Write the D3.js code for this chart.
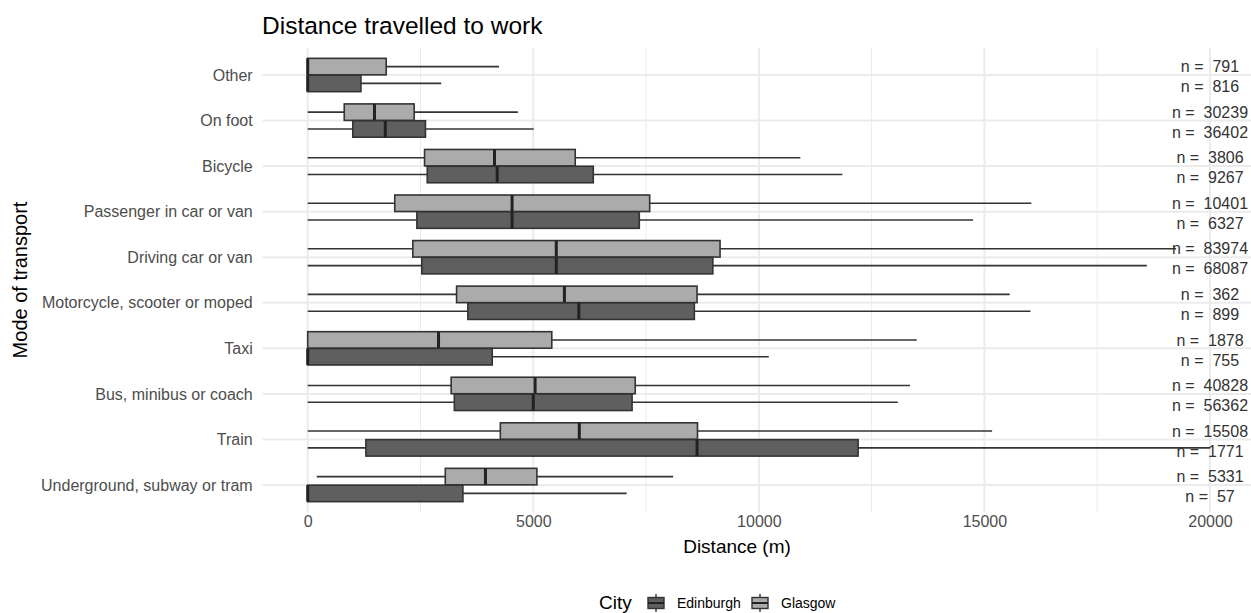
<!DOCTYPE html>
<html lang="en">

<head>
    <meta charset="utf-8">
    <title>Distance travelled to work</title>
    <script type="text/javascript" src="https://cdn.jsdelivr.net/npm/d3@7"></script>
    <style>
      body { margin: 0; background: #fff; }
      text { font-family: "Liberation Sans", Arial, sans-serif; }
    </style>
</head>

<body>
    <script type="text/javascript">
      var w = 1251;
      var h = 613;

      //// Data (distance in metres)
      var modes = ["Other", "On foot", "Bicycle", "Passenger in car or van", "Driving car or van",
                   "Motorcycle, scooter or moped", "Taxi", "Bus, minibus or coach", "Train",
                   "Underground, subway or tram"];

      // [min, q1, median, q3, max] per mode
      var glasgowStats = [
        [0, 0, 0, 1740, 4240],
        [0, 810, 1480, 2360, 4660],
        [0, 2590, 4140, 5930, 10920],
        [0, 1930, 4530, 7580, 16040],
        [0, 2330, 5510, 9140, 19250],
        [0, 3300, 5690, 8630, 15560],
        [0, 0, 2900, 5410, 13500],
        [0, 3180, 5040, 7260, 13350],
        [0, 4270, 6020, 8640, 15170],
        [200, 3050, 3940, 5080, 8100]
      ];
      var edinburghStats = [
        [0, 0, 0, 1180, 2960],
        [0, 1000, 1720, 2610, 5010],
        [0, 2650, 4200, 6330, 11850],
        [0, 2420, 4530, 7350, 14750],
        [0, 2530, 5510, 8980, 18600],
        [0, 3550, 6010, 8570, 16020],
        [0, 0, 0, 4090, 10220],
        [0, 3250, 5000, 7190, 13080],
        [0, 1290, 8630, 12200, 20000],
        [0, 0, 0, 3440, 7070]
      ];
      var glasgowN = [791, 30239, 3806, 10401, 83974, 362, 1878, 40828, 15508, 5331];
      var edinburghN = [816, 36402, 9267, 6327, 68087, 899, 755, 56362, 1771, 57];

      var cities = ["Edinburgh", "Glasgow"];
      var cityFill = { "Edinburgh": "#5f5f5f", "Glasgow": "#ababab" };
      var majorTicks = [0, 5000, 10000, 15000, 20000];
      var minorTicks = [2500, 7500, 12500, 17500];

      //// Layout
      var panel = { left: 262.7, right: 1251, top: 47.7, bottom: 512.3 };

      var x = d3.scaleLinear()
        .domain([0, 20000])
        .range([307.7, 1210]);

      var y = d3.scalePoint()
        .domain(modes)
        .range([75, 485]);

      var boxH = 16.5;
      var offset = { "Glasgow": -8.4, "Edinburgh": 8.4 };
      var labelOffset = { "Glasgow": -8.5, "Edinburgh": 11.5 };

      // flatten into one record per box
      var boxes = [];
      modes.forEach(function(m, i) {
        boxes.push({ mode: m, city: "Glasgow", s: glasgowStats[i], n: glasgowN[i] });
        boxes.push({ mode: m, city: "Edinburgh", s: edinburghStats[i], n: edinburghN[i] });
      });

      var svg = d3.select("body")
        .append("svg")
        .attr("width", w)
        .attr("height", h);

      //// Grid
      var grid = svg.append("g");
      grid.selectAll("line.minor")
        .data(minorTicks)
        .enter()
        .append("line")
        .attr("x1", function(d) { return x(d); })
        .attr("x2", function(d) { return x(d); })
        .attr("y1", panel.top)
        .attr("y2", panel.bottom)
        .attr("stroke", "#ebebeb")
        .attr("stroke-width", 1);
      grid.selectAll("line.major")
        .data(majorTicks)
        .enter()
        .append("line")
        .attr("x1", function(d) { return x(d); })
        .attr("x2", function(d) { return x(d); })
        .attr("y1", panel.top)
        .attr("y2", panel.bottom)
        .attr("stroke", "#ebebeb")
        .attr("stroke-width", 2);
      grid.selectAll("line.hmajor")
        .data(modes)
        .enter()
        .append("line")
        .attr("x1", panel.left)
        .attr("x2", panel.right)
        .attr("y1", function(d) { return y(d); })
        .attr("y2", function(d) { return y(d); })
        .attr("stroke", "#ebebeb")
        .attr("stroke-width", 2);

      //// Axes
      var xAxis = svg.append("g")
        .attr("transform", "translate(0," + panel.bottom + ")")
        .call(d3.axisBottom(x).tickValues(majorTicks).tickFormat(d3.format("d")).tickSize(0).tickPadding(3.5));
      var yAxis = svg.append("g")
        .attr("transform", "translate(" + panel.left + ",0)")
        .call(d3.axisLeft(y).tickSize(0).tickPadding(10));
      [xAxis, yAxis].forEach(function(a) {
        a.select(".domain").remove();
        a.selectAll("text")
          .attr("font-family", "Liberation Sans, Arial, sans-serif")
          .attr("font-size", "16px")
          .attr("fill", "#4d4d4d");
      });

      //// Boxplots
      var g = svg.selectAll("g.box")
        .data(boxes)
        .enter()
        .append("g")
        .attr("class", "box")
        .attr("transform", function(d) {
          return "translate(0," + (y(d.mode) + offset[d.city]) + ")";
        });

      // whiskers
      g.append("line")
        .attr("x1", function(d) { return x(d.s[0]); })
        .attr("x2", function(d) { return x(d.s[1]); })
        .attr("stroke", "#333")
        .attr("stroke-width", 1.6);
      g.append("line")
        .attr("x1", function(d) { return x(d.s[3]); })
        .attr("x2", function(d) { return x(d.s[4]); })
        .attr("stroke", "#333")
        .attr("stroke-width", 1.6);

      g.append("rect")
        .attr("x", function(d) { return x(d.s[1]); })
        .attr("y", -boxH / 2)
        .attr("width", function(d) { return x(d.s[3]) - x(d.s[1]); })
        .attr("height", boxH)
        .attr("fill", function(d) { return cityFill[d.city]; })
        .attr("stroke", "#333")
        .attr("stroke-width", 1.6);

      // median
      g.append("line")
        .attr("x1", function(d) { return x(d.s[2]); })
        .attr("x2", function(d) { return x(d.s[2]); })
        .attr("y1", -boxH / 2)
        .attr("y2", boxH / 2)
        .attr("stroke", "#222")
        .attr("stroke-width", 3);

      //// n labels
      svg.selectAll("text.nlab")
        .data(boxes)
        .enter()
        .append("text")
        .attr("class", "nlab")
        .attr("x", x(20000))
        .attr("y", function(d) { return y(d.mode) + labelOffset[d.city]; })
        .attr("dy", "0.36em")
        .attr("text-anchor", "middle")
        .attr("font-size", "16px")
        .attr("fill", "#333")
        .attr("xml:space", "preserve")
        .style("white-space", "pre")
        .text(function(d) { return "n =  " + d.n; });

      //// Titles
      svg.append("text")
        .attr("x", 262)
        .attr("y", 33.5)
        .attr("font-size", "24.5px")
        .attr("fill", "#000")
        .text("Distance travelled to work");

      svg.append("text")
        .attr("x", 737)
        .attr("y", 553)
        .attr("text-anchor", "middle")
        .attr("font-size", "19px")
        .attr("fill", "#000")
        .text("Distance (m)");

      svg.append("text")
        .attr("transform", "translate(27," + ((panel.top + panel.bottom) / 2) + ") rotate(-90)")
        .attr("text-anchor", "middle")
        .attr("font-size", "20px")
        .attr("fill", "#000")
        .text("Mode of transport");

      //// Legend
      var legend = svg.append("g")
        .attr("transform", "translate(599,603)");
      legend.append("text")
        .attr("x", 0)
        .attr("y", 6)
        .attr("font-size", "19px")
        .attr("fill", "#000")
        .text("City");

      var keyX = [49, 153];
      var item = legend.selectAll("g.key")
        .data(cities)
        .enter()
        .append("g")
        .attr("transform", function(d, i) { return "translate(" + keyX[i] + ",0)"; });
      item.append("line")
        .attr("x1", 8).attr("x2", 8)
        .attr("y1", -9).attr("y2", 9)
        .attr("stroke", "#333")
        .attr("stroke-width", 1.4);
      item.append("rect")
        .attr("x", 0)
        .attr("y", -5.5)
        .attr("width", 16)
        .attr("height", 11)
        .attr("fill", function(d) { return cityFill[d]; })
        .attr("stroke", "#333")
        .attr("stroke-width", 1.4);
      item.append("line")
        .attr("x1", 0).attr("x2", 16)
        .attr("y1", 0).attr("y2", 0)
        .attr("stroke", "#222")
        .attr("stroke-width", 2);
      item.append("text")
        .attr("x", 29)
        .attr("y", 5)
        .attr("font-size", "14px")
        .attr("fill", "#000")
        .text(function(d) { return d; });
    </script>
</body>

</html>
